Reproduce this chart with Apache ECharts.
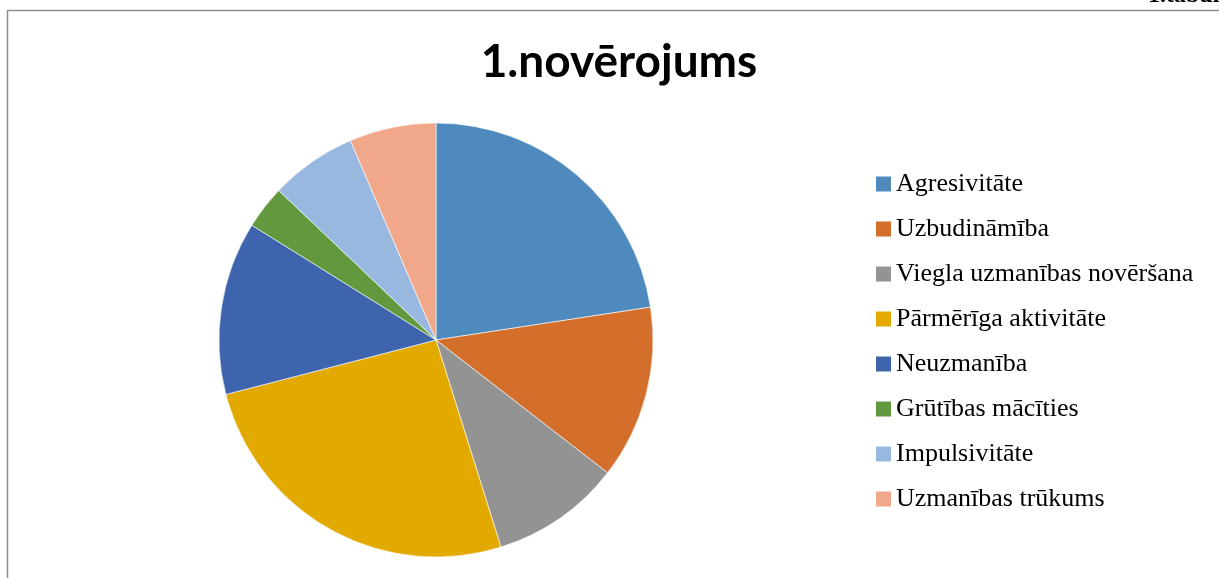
<!DOCTYPE html>
<html><head><meta charset="utf-8">
<script src="https://cdn.jsdelivr.net/npm/echarts@6/dist/echarts.min.js"></script>
<style>html,body{margin:0;padding:0;background:#fff}#c{width:1219px;height:578px}</style>
</head><body><div id="c"></div>
<script>
const categories = ['Agresivitāte','Uzbudināmība','Viegla uzmanības novēršana','Pārmērīga aktivitāte','Neuzmanība','Grūtības mācīties','Impulsivitāte','Uzmanības trūkums'];
const values = [7,4,3,8,4,1,2,2];
const colors = ['#4F8ABE','#D46E2B','#939393','#E2AA00','#3D64AD','#62993F','#98B8DF','#F1A88A'];
const titleText = '1.novērojums';
const cornerText = '1.tabula';

const chart = echarts.init(document.getElementById('c'));
chart.setOption({
  animation:false,
  backgroundColor:'#fff',
  title:{text:titleText,left:619,textAlign:'center',top:39,padding:0,
    textStyle:{fontFamily:'Lato',fontWeight:'bold',fontSize:46,color:'#000'}},
  legend:{orient:'vertical',left:876,top:171,padding:0,icon:'rect',itemWidth:15,itemHeight:15,itemGap:19,
    itemStyle:{borderWidth:0},
    data:categories,
    textStyle:{fontFamily:'Liberation Serif',fontSize:26,lineHeight:26,color:'#000',padding:[0,0,0,0]}},
  graphic:[
    {type:'rect',shape:{x:7.5,y:10.5,width:1400,height:800},style:{fill:null,stroke:'#8e8e8e',lineWidth:1.5},silent:true},
    {type:'text',left:1148,top:-16,style:{text:cornerText,font:'bold 24px "Liberation Serif"',fill:'#000'}}
  ],
  series:[{type:'pie',center:[436,340],radius:217,startAngle:90,clockwise:true,
    label:{show:false},labelLine:{show:false},
    itemStyle:{borderColor:'#ffffff',borderWidth:0.6},
    emphasis:{disabled:true},
    data:categories.map((n,i)=>({name:n,value:values[i],itemStyle:{color:colors[i]}}))}]
});
</script></body></html>
